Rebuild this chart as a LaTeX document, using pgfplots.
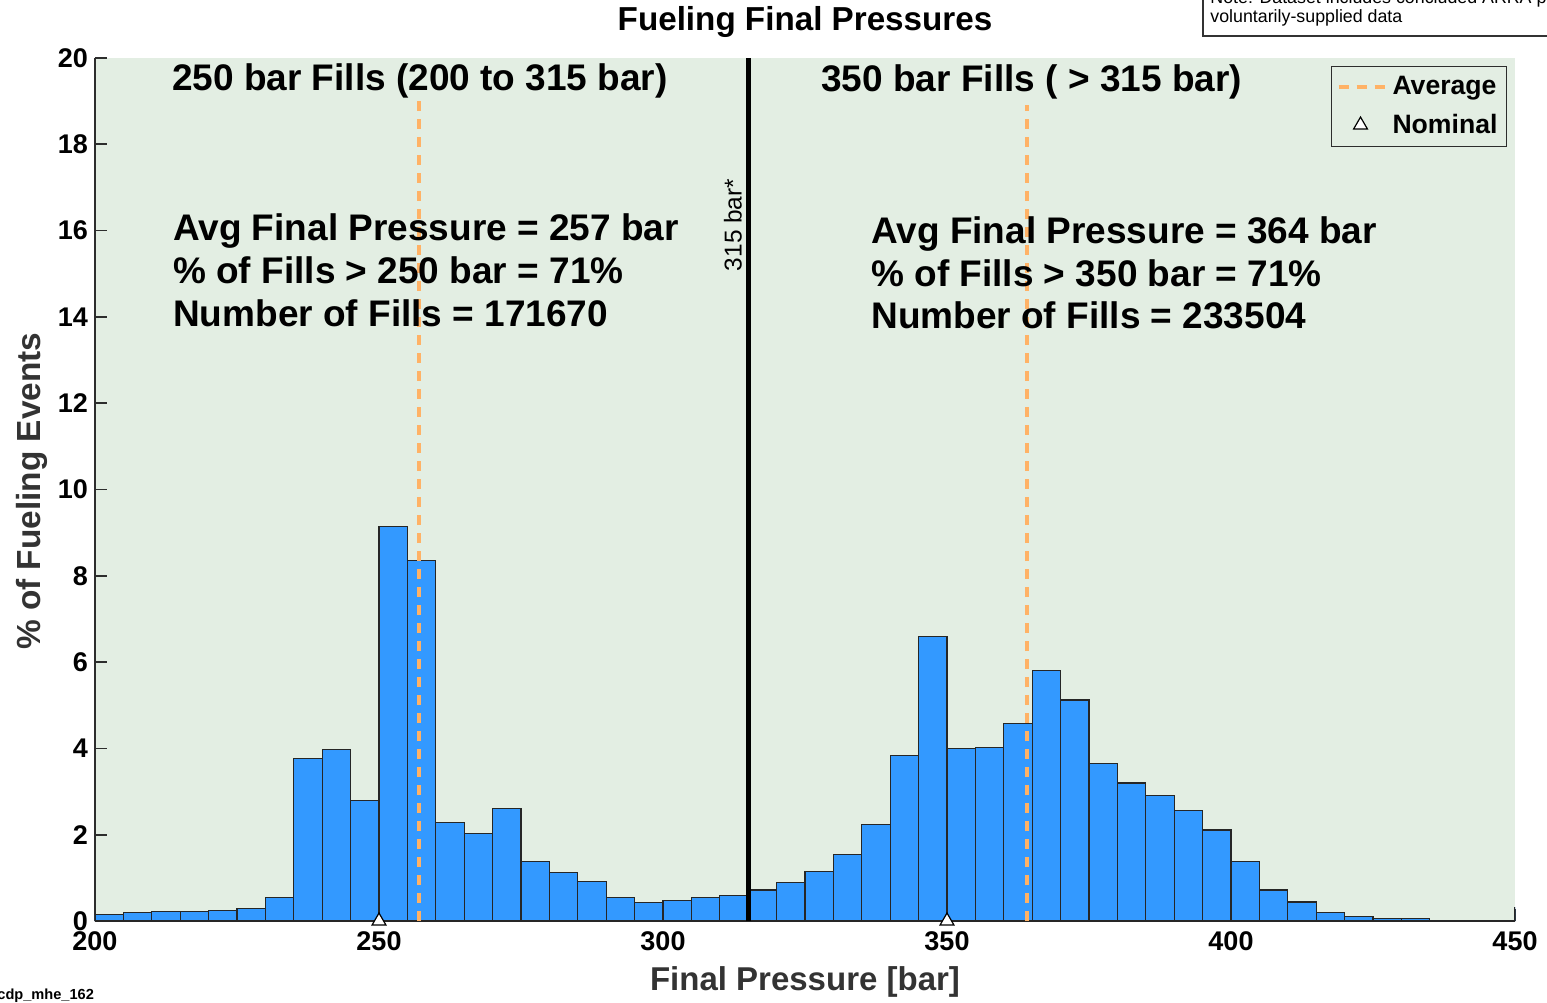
\documentclass[border=0pt]{standalone}
\usepackage{pgfplots}
\pgfplotsset{compat=1.18}
\usepackage{pgfplotstable}
\usepackage{fontspec}
\setmainfont{Liberation Sans}
\definecolor{bggreen}{RGB}{227,238,227}
\definecolor{barblue}{RGB}{51,153,255}
\definecolor{avgorange}{RGB}{255,178,102}
\definecolor{axisgray}{RGB}{45,45,45}
\pgfplotsset{
  longline legend/.style={legend image code/.code={\draw[##1] (0pt,0pt) -- (24pt,0pt);}},
  centremark legend/.style={legend image code/.code={\draw[##1] plot coordinates {(11pt,0pt)};}},
}

% bin centre, percent of fueling events (5 bar bins)
\pgfplotstableread{
x y
202.5 0.15
207.5 0.19
212.5 0.22
217.5 0.22
222.5 0.24
227.5 0.29
232.5 0.54
237.5 3.76
242.5 3.97
247.5 2.80
252.5 9.14
257.5 8.36
262.5 2.28
267.5 2.02
272.5 2.61
277.5 1.37
282.5 1.12
287.5 0.91
292.5 0.54
297.5 0.43
302.5 0.48
307.5 0.54
312.5 0.59
317.5 0.72
322.5 0.90
327.5 1.14
332.5 1.54
337.5 2.24
342.5 3.84
347.5 6.60
352.5 3.99
357.5 4.02
362.5 4.58
367.5 5.80
372.5 5.12
377.5 3.65
382.5 3.20
387.5 2.90
392.5 2.56
397.5 2.11
402.5 1.38
407.5 0.72
412.5 0.44
417.5 0.20
422.5 0.10
427.5 0.05
432.5 0.05
437.5 0.02
442.5 0.02
447.5 0.02
452.5 0.32
}\histdata

\begin{document}
\begin{tikzpicture}
\useasboundingbox (-47.5pt,-40.5pt) rectangle (726pt,460.5pt);
\begin{axis}[
  at={(0pt,0pt)}, anchor=south west,
  scale only axis, width=710pt, height=431.5pt,
  xmin=200, xmax=450, ymin=0, ymax=20,
  axis lines*=left,
  axis line style={axisgray, line width=1pt},
  axis background/.style={fill=bggreen},
  xtick={200,250,...,450},
  ytick={0,2,...,20},
  tick align=inside,
  major tick length=6pt,
  tick style={axisgray, line width=0.8pt},
  /pgf/number format/assume math mode=true,
  ticklabel style={font=\bfseries\fontsize{13.5}{14}\selectfont},
  xticklabel style={yshift=-2pt},
  title={Fueling Final Pressures},
  every axis title/.style={at={(axis description cs:0.5,1.0417)}, anchor=center,
    font=\bfseries\fontsize{16.6}{18}\selectfont},
  xlabel={Final Pressure [bar]},
  every axis x label/.style={at={(axis description cs:0.5,-0.0707)}, anchor=center,
    font=\bfseries\fontsize{16.5}{18}\selectfont, text=black!80},
  ylabel={\% of Fueling Events},
  every axis y label/.style={at={(axis description cs:-0.0444,0.498)}, anchor=center, rotate=90,
    font=\bfseries\fontsize{16.7}{18}\selectfont, text=black!80},
  legend style={at={(0.9944,0.9907)}, anchor=north east, fill=bggreen,
    draw=axisgray, line width=0.6pt, font=\bfseries\fontsize{13.3}{14}\selectfont,
    inner xsep=2.5pt, inner ysep=3pt, row sep=4pt},
  legend cell align=left,
]
\addlegendimage{avgorange, line width=2pt, dash pattern=on 5pt off 4pt, longline legend}
\addlegendentry{Average}
\addlegendimage{only marks, mark=triangle*, mark size=4pt,
  mark options={fill=white, draw=black, line width=0.6pt}, centremark legend}
\addlegendentry{Nominal}

\addplot[ybar, bar width=5, bar shift=0pt, fill=barblue, draw=black!85, line width=0.6pt, forget plot]
  table[x=x, y=y] {\histdata};

\addplot[avgorange, line width=2pt, dash pattern=on 5pt off 4pt, forget plot]
  coordinates {(257,0) (257,19.0)};
\addplot[avgorange, line width=2pt, dash pattern=on 5pt off 4pt, forget plot]
  coordinates {(364,0) (364,18.9)};
\addplot[black, line width=2.5pt, forget plot]
  coordinates {(315,0) (315,20)};
\addplot[only marks, mark=triangle*, mark size=4pt,
  mark options={fill=white, draw=black, line width=0.6pt}, forget plot]
  coordinates {(250,0) (350,0)};

\node[font=\bfseries\fontsize{18.5}{20}\selectfont, anchor=center] at (axis cs:257.2,19.47) {250 bar Fills (200 to 315 bar)};
\node[font=\bfseries\fontsize{18.5}{20}\selectfont, anchor=center] at (axis cs:364.9,19.44) {350 bar Fills ( > 315 bar)};

\node[font=\bfseries\fontsize{18.5}{20}\selectfont, anchor=west, inner sep=0pt] at (axis cs:213.7,15.99) {Avg Final Pressure = 257 bar};
\node[font=\bfseries\fontsize{18.5}{20}\selectfont, anchor=west, inner sep=0pt] at (axis cs:213.7,15.09) {\% of Fills > 250 bar = 71\%};
\node[font=\bfseries\fontsize{18.5}{20}\selectfont, anchor=west, inner sep=0pt] at (axis cs:213.7,14.09) {Number of Fills = 171670};

\node[font=\bfseries\fontsize{18.5}{20}\selectfont, anchor=west, inner sep=0pt] at (axis cs:336.6,15.92) {Avg Final Pressure = 364 bar};
\node[font=\bfseries\fontsize{18.5}{20}\selectfont, anchor=west, inner sep=0pt] at (axis cs:336.6,15.01) {\% of Fills > 350 bar = 71\%};
\node[font=\bfseries\fontsize{18.5}{20}\selectfont, anchor=west, inner sep=0pt] at (axis cs:336.6,14.04) {Number of Fills = 233504};

\node[font=\fontsize{12.2}{13}\selectfont, rotate=90, anchor=center, inner sep=0pt] at (axis cs:312.3,16.13) {315 bar*};
\end{axis}

% note box (cropped at top right in the reference)
\draw[black!80, line width=0.6pt, fill=white] (554pt,442.5pt) rectangle (820pt,490pt);
\node[anchor=base west, inner sep=0pt, font=\fontsize{8.9}{10}\selectfont] at (557.5pt,458.5pt) {Note: Dataset includes concluded ARRA project data and};
\node[anchor=base west, inner sep=0pt, font=\fontsize{8.9}{10}\selectfont] at (557.5pt,449pt) {voluntarily-supplied data};

\node[anchor=west, inner sep=0pt, font=\bfseries\fontsize{7.3}{8}\selectfont] at (-49pt,-37.5pt) {cdp\_mhe\_162};
\end{tikzpicture}
\end{document}
